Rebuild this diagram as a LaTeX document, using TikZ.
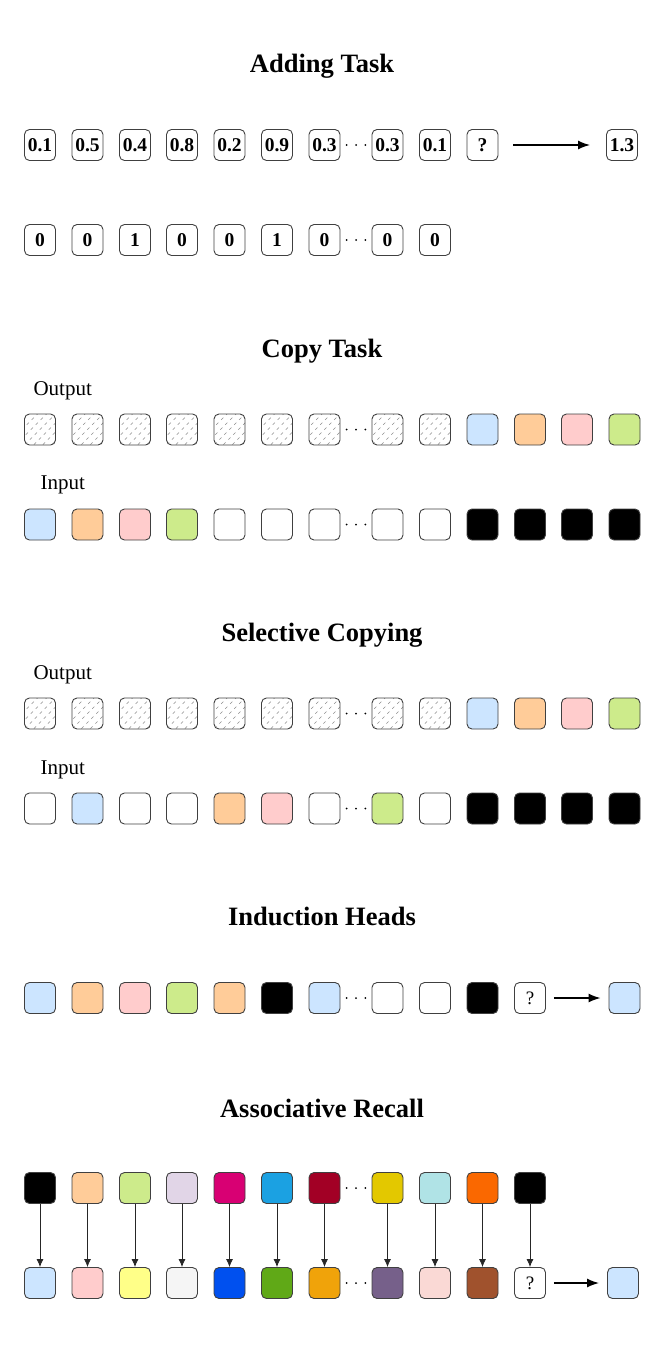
\documentclass[tikz,border=0pt]{standalone}
\usepackage{fontspec}
\setmainfont{Liberation Serif}
\usetikzlibrary{arrows.meta,calc}
\definecolor{cblue}{HTML}{CCE5FF}
\definecolor{corange}{HTML}{FFCC99}
\definecolor{cpink}{HTML}{FFCCCC}
\definecolor{cgreen}{HTML}{CDEB8B}
\definecolor{clavender}{HTML}{E1D5E7}
\definecolor{cmagenta}{HTML}{D80073}
\definecolor{ccyan}{HTML}{1BA1E2}
\definecolor{ccrimson}{HTML}{A20025}
\definecolor{cyellow}{HTML}{E3C800}
\definecolor{cteal}{HTML}{B0E3E6}
\definecolor{cdorange}{HTML}{FA6800}
\definecolor{clyellow}{HTML}{FFFF88}
\definecolor{clgray}{HTML}{F5F5F5}
\definecolor{ccobalt}{HTML}{0050EF}
\definecolor{cdgreen}{HTML}{60A917}
\definecolor{camber}{HTML}{F0A30A}
\definecolor{cmauve}{HTML}{76608A}
\definecolor{crose}{HTML}{FAD9D5}
\definecolor{cbrown}{HTML}{A0522D}
\begin{document}
\begin{tikzpicture}[x=1pt,y=-1pt,
  box/.style={draw=black!75, line width=0.9pt, rounded corners=5pt,
    minimum width=31pt, minimum height=31pt, inner sep=0pt,
    font=\fontsize{19.5}{20}\selectfont\bfseries},
  qbox/.style={box, fill=white, font=\fontsize{19}{20}\selectfont},
  hatchbox/.style={box, path picture={
    \foreach \k in {-45,-36,...,45} {
      \draw[gray!90, line width=0.6pt, dash pattern=on 3pt off 4pt]
        ($(path picture bounding box.center)+(\k-20,20)$) -- ++(40,-40);
    }}},
  title/.style={anchor=base, font=\fontsize{26.5}{30}\selectfont\bfseries},
  lbl/.style={anchor=base west, font=\fontsize{21}{24}\selectfont},
  bigarrow/.style={-{Latex[length=12pt,width=9pt]}, line width=1.5pt, shorten <=15pt, shorten >=16pt},
  bigarrowb/.style={-{Latex[length=12pt,width=9pt]}, line width=1.5pt, shorten <=8pt, shorten >=8pt},
  smallarrow/.style={-{Latex[length=8pt,width=7pt]}, line width=0.8pt, black!85}
]
\path[use as bounding box] (0,0) rectangle (664,1346);

% ---------------- Adding Task ----------------
\node[title] (t1) at (322,73) {Adding Task};
\foreach \i/\x/\t in {1/40/0.1,2/87.5/0.5,3/135/0.4,4/182/0.8,5/229.5/0.2,6/277/0.9,7/324.5/0.3,8/387.5/0.3,9/435/0.1,10/482.5/?}
  \node[box] (adda\i) at (\x,145) {\t};
\node[box] (addt) at (622,145) {1.3};
\draw[bigarrow] (adda10) -- (addt);
\foreach \i/\x/\t in {1/40/0,2/87.5/0,3/135/1,4/182/0,5/229.5/0,6/277/1,7/324.5/0,8/387.5/0,9/435/0}
  \node[box] (addb\i) at (\x,240) {\t};
\foreach \r in {adda,addb}
  \foreach \p in {0.2,0.5,0.8}
    \fill ($(\r7.east)!\p!(\r8.west)$) circle (1pt);

% ---------------- Copy Task ----------------
\node[title] (t2) at (322,357) {Copy Task};
\node[lbl] (lo2) at (30,395) {Output};
\node[lbl] (li2) at (37,489) {Input};
\foreach \i/\x in {1/40,2/87.5,3/135,4/182,5/229.5,6/277,7/324.5,8/387.5,9/435}
  \node[hatchbox] (co\i) at (\x,429.5) {};
\foreach \i/\x/\c in {10/482.5/cblue,11/530/corange,12/577/cpink,13/624.5/cgreen}
  \node[box, fill=\c] (co\i) at (\x,429.5) {};
\foreach \i/\x/\c in {1/40/cblue,2/87.5/corange,3/135/cpink,4/182/cgreen,5/229.5/white,6/277/white,7/324.5/white,8/387.5/white,9/435/white,10/482.5/black,11/530/black,12/577/black,13/624.5/black}
  \node[box, fill=\c] (ci\i) at (\x,524.5) {};
\foreach \r in {co,ci}
  \foreach \p in {0.2,0.5,0.8}
    \fill ($(\r7.east)!\p!(\r8.west)$) circle (1pt);

% ---------------- Selective Copying ----------------
\node[title] (t3) at (322,641) {Selective Copying};
\node[lbl] (lo3) at (30,679) {Output};
\node[lbl] (li3) at (37,774) {Input};
\foreach \i/\x in {1/40,2/87.5,3/135,4/182,5/229.5,6/277,7/324.5,8/387.5,9/435}
  \node[hatchbox] (so\i) at (\x,713.5) {};
\foreach \i/\x/\c in {10/482.5/cblue,11/530/corange,12/577/cpink,13/624.5/cgreen}
  \node[box, fill=\c] (so\i) at (\x,713.5) {};
\foreach \i/\x/\c in {1/40/white,2/87.5/cblue,3/135/white,4/182/white,5/229.5/corange,6/277/cpink,7/324.5/white,8/387.5/cgreen,9/435/white,10/482.5/black,11/530/black,12/577/black,13/624.5/black}
  \node[box, fill=\c] (si\i) at (\x,808.5) {};
\foreach \r in {so,si}
  \foreach \p in {0.2,0.5,0.8}
    \fill ($(\r7.east)!\p!(\r8.west)$) circle (1pt);

% ---------------- Induction Heads ----------------
\node[title] (t4) at (322,925) {Induction Heads};
\foreach \i/\x/\c in {1/40/cblue,2/87.5/corange,3/135/cpink,4/182/cgreen,5/229.5/corange,6/277/black,7/324.5/cblue,8/387.5/white,9/435/white,10/482.5/black}
  \node[box, fill=\c] (ih\i) at (\x,998) {};
\node[qbox] (ih11) at (530,998) {?};
\node[box, fill=cblue] (iht) at (624.5,998) {};
\draw[bigarrowb] (ih11) -- (iht);
\foreach \p in {0.2,0.5,0.8}
  \fill ($(ih7.east)!\p!(ih8.west)$) circle (1pt);

% ---------------- Associative Recall ----------------
\node[title] (t5) at (322,1117) {Associative Recall};
\foreach \i/\x/\c in {1/40/black,2/87.5/corange,3/135/cgreen,4/182/clavender,5/229.5/cmagenta,6/277/ccyan,7/324.5/ccrimson,8/387.5/cyellow,9/435/cteal,10/482.5/cdorange,11/530/black}
  \node[box, fill=\c] (ak\i) at (\x,1188) {};
\foreach \i/\x/\c in {1/40/cblue,2/87.5/cpink,3/135/clyellow,4/182/clgray,5/229.5/ccobalt,6/277/cdgreen,7/324.5/camber,8/387.5/cmauve,9/435/crose,10/482.5/cbrown}
  \node[box, fill=\c] (av\i) at (\x,1283) {};
\node[qbox] (av11) at (530,1283) {?};
\node[box, fill=cblue] (avt) at (623,1283) {};
\foreach \i in {1,...,11}
  \draw[smallarrow] (ak\i) -- (av\i);
\draw[bigarrowb] (av11) -- (avt);
\foreach \r in {ak,av}
  \foreach \p in {0.2,0.5,0.8}
    \fill ($(\r7.east)!\p!(\r8.west)$) circle (1pt);
\end{tikzpicture}
\end{document}
